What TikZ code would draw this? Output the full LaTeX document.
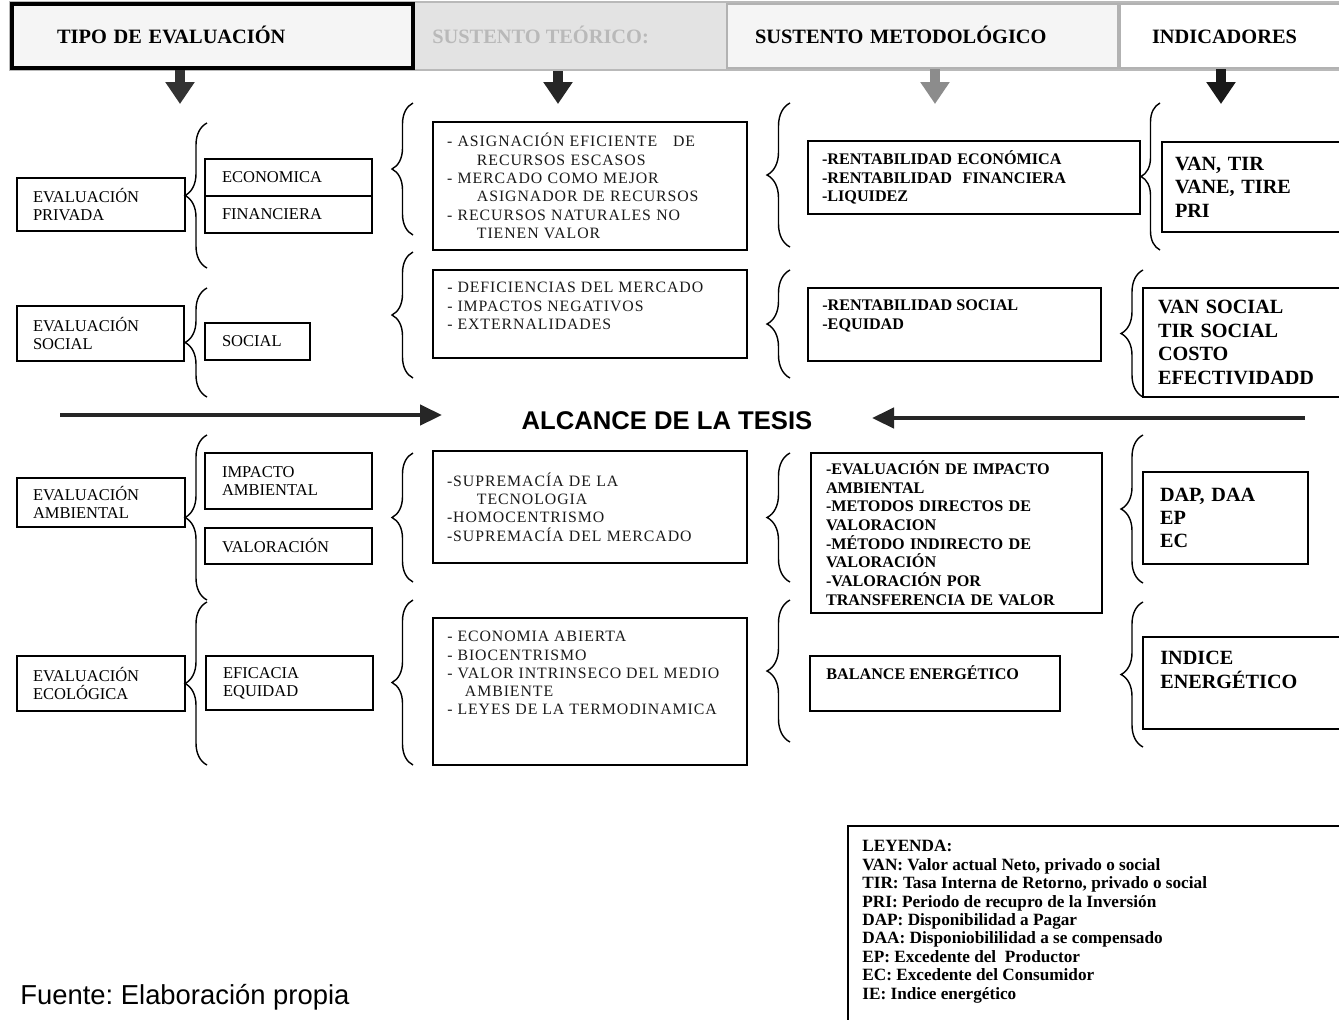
\documentclass[tikz,border=0pt]{standalone}
\usepackage{fontspec}
\setmainfont{Liberation Serif}
\newfontfamily\arialf{Liberation Sans}
\newfontfamily\teofont[LetterSpace=6]{Liberation Serif}
\usetikzlibrary{arrows.meta,decorations.pathreplacing}

\begin{document}
\frenchspacing
\begin{tikzpicture}[x=0.02cm, y=-0.02cm,
    evbox/.style={draw, line width=0.8pt, align=left, inner xsep=0.32cm, inner ysep=0pt, font=\fontsize{9.4}{10.2}\selectfont},
    subbox/.style={evbox, inner xsep=0.34cm},
    teofnt/.style={font=\teofont\fontsize{9}{10.4}\selectfont, text=black!90},
    teobox/.style={draw, line width=0.8pt, align=left, inner xsep=0.28cm, inner ysep=0pt, teofnt},
    teotxt/.style={align=left, inner sep=0pt, teofnt},
    metbox/.style={draw, line width=0.8pt, align=left, inner ysep=0pt, font=\bfseries\fontsize{9.2}{10.6}\selectfont},
    mettxt/.style={align=left, inner sep=0pt, font=\bfseries\fontsize{9.2}{10.6}\selectfont},
    indbox/.style={draw, line width=0.8pt, align=left, inner ysep=0pt, font=\bfseries\fontsize{11.5}{13.3}\selectfont},
    indtxt/.style={align=left, inner sep=0pt, font=\bfseries\fontsize{11.5}{13.3}\selectfont},
    boxframe/.style={draw, line width=0.8pt, inner sep=0pt},
    hdrbox/.style={align=left, inner ysep=0pt, minimum height=1.28cm, text height=10pt, text depth=1.2pt, font=\bfseries\fontsize{11.6}{13}\selectfont},
    brc/.style={decorate, decoration={brace, amplitude=#1}, line width=0.8pt},
    downarr/.style={line width=0.2cm, -{Triangle[width=0.56cm,length=0.44cm]}},
    midarr/.style={line width=0.09cm, black!85, -{Triangle[width=0.4cm,length=0.44cm]}}]

  \useasboundingbox[fill=white] (0,0) rectangle (1339,1019);

  % Header band
  \node[draw=gray!55, fill=gray!22, line width=1.5pt, minimum width=26.58cm, minimum height=1.36cm] (hdr) at (674.5,36) {};
  \node[hdrbox, draw, fill=gray!8, line width=2.2pt, inner xsep=0.9cm, text width=6.22cm] (tipo) at (212.5,36) {TIPO DE EVALUACIÓN};
  \node[hdrbox, text=gray!55, anchor=west, inner xsep=0pt] (teoh) at (432,36) {SUSTENTO TEÓRICO:};
  \node[hdrbox, draw=gray!60, fill=gray!8, line width=1.5pt, inner xsep=0.56cm, text width=6.7cm] (meth) at (922.5,36) {SUSTENTO METODOLÓGICO};
  \node[hdrbox, draw=gray!60, fill=white, line width=1.5pt, inner xsep=0.64cm, text width=3.22cm] (indh) at (1232.5,36) {INDICADORES};

  \coordinate (d1) at (180,104);
  \coordinate (d2) at (558,104);
  \coordinate (d3) at (935,104);
  \coordinate (d4) at (1221,104);
  \draw[downarr, black!80] (tipo.south -| d1) -- (d1);
  \draw[downarr, black!85] (hdr.south -| d2) -- (d2);
  \draw[downarr, black!45] (meth.south -| d3) -- (d3);
  \draw[downarr, black!90] (indh.south -| d4) -- (d4);

  % Types of evaluation
  \node[evbox, text width=2.72cm, minimum height=1.06cm] (priv) at (101,204.5) {EVALUACIÓN\\PRIVADA};
  \node[evbox, text width=2.70cm, minimum height=1.1cm] (soc) at (100.5,333.5) {EVALUACIÓN\\SOCIAL};
  \node[evbox, text width=2.72cm, minimum height=0.98cm] (amb) at (101,502.5) {EVALUACIÓN\\AMBIENTAL};
  \node[evbox, text width=2.72cm, minimum height=1.1cm] (eco) at (101,683.5) {EVALUACIÓN\\ECOLÓGICA};

  \node[subbox, text width=2.66cm, minimum height=0.74cm] (econ) at (288.5,177.5) {ECONOMICA};
  \node[subbox, text width=2.66cm, minimum height=0.74cm] (fin) at (288.5,214.5) {FINANCIERA};
  \node[subbox, text width=1.42cm, minimum height=0.74cm] (socb) at (257.5,341.5) {SOCIAL};
  \node[subbox, text width=2.66cm, minimum height=1.12cm] (imp) at (288.5,481) {IMPACTO\\AMBIENTAL};
  \node[subbox, text width=2.66cm, minimum height=0.72cm] (val) at (288.5,546) {VALORACIÓN};
  \node[subbox, text width=2.66cm, minimum height=1.08cm] (efi) at (289.5,683) {EFICACIA\\EQUIDAD};

  % Theoretical support
  \node[teobox, text width=5.72cm, minimum height=2.56cm] (teo1) at (590,186)
    {- ASIGNACIÓN EFICIENTE\ \ \ DE\\\hspace*{17pt}RECURSOS ESCASOS\\- MERCADO COMO MEJOR\\\hspace*{17pt}ASIGNADOR DE RECURSOS\\- RECURSOS NATURALES NO\\\hspace*{17pt}TIENEN VALOR};
  \node[boxframe, minimum width=6.28cm, minimum height=1.76cm] (teo2) at (590,314) {};
  \node[teotxt, anchor=north west] (teo2t) at (447,282) {- DEFICIENCIAS DEL MERCADO\\- IMPACTOS NEGATIVOS\\- EXTERNALIDADES};
  \node[teobox, text width=5.72cm, minimum height=2.24cm] (teo3) at (590,507)
    {-SUPREMACÍA DE LA\\\hspace*{17pt}TECNOLOGIA\\-HOMOCENTRISMO\\-SUPREMACÍA DEL MERCADO};
  \node[boxframe, minimum width=6.28cm, minimum height=2.94cm] (teo4) at (590,691.5) {};
  \node[teotxt, anchor=north west] (teo4t) at (447,631) {- ECONOMIA ABIERTA\\- BIOCENTRISMO\\- VALOR INTRINSECO DEL MEDIO\\\hspace*{10pt}AMBIENTE\\- LEYES DE LA TERMODINAMICA};

  % Methodological support
  \node[metbox, inner xsep=0.28cm, text width=6.08cm, minimum height=1.46cm] (met1) at (974,177.5)
    {-RENTABILIDAD ECONÓMICA\\-RENTABILIDAD\ \ FINANCIERA\\-LIQUIDEZ};
  \node[boxframe, minimum width=5.86cm, minimum height=1.46cm] (met2) at (954.5,324.5) {};
  \node[mettxt, anchor=north west] (met2t) at (822,299.5) {-RENTABILIDAD SOCIAL\\-EQUIDAD};
  \node[metbox, inner xsep=0.3cm, text width=5.22cm, minimum height=3.2cm] (met3) at (956.5,533)
    {-EVALUACIÓN DE IMPACTO\\AMBIENTAL\\-METODOS DIRECTOS DE\\VALORACION\\-MÉTODO INDIRECTO DE\\VALORACIÓN\\-VALORACIÓN POR\\TRANSFERENCIA DE VALOR};
  \node[boxframe, minimum width=5cm, minimum height=1.1cm] (met4) at (935,683.5) {};
  \node[mettxt, anchor=base west] (met4t) at (826,679.5) {BALANCE ENERGÉTICO};

  % Indicators
  \node[indbox, inner xsep=0.26cm, text width=3.24cm, minimum height=1.8cm] (ind1) at (1256,187) {VAN, TIR\\VANE, TIRE\\PRI};
  \node[indbox, inner xsep=0.3cm, text width=3.54cm, minimum height=2.18cm] (ind2) at (1246.5,342.5) {VAN SOCIAL\\TIR SOCIAL\\COSTO\\EFECTIVIDADD};
  \node[indbox, inner xsep=0.34cm, text width=2.62cm, minimum height=1.84cm] (ind3) at (1225.5,518) {DAP, DAA\\EP\\EC};
  \node[boxframe, minimum width=4.14cm, minimum height=1.84cm] (ind4) at (1246.5,683) {};
  \node[indtxt, anchor=north west] (ind4t) at (1160,651) {INDICE\\ENERGÉTICO};

  % Braces
  \foreach \yb/\yt in {268/123, 397/288, 600/435, 765/602}
    \draw[brc=0.44cm] (207,\yb) -- (207,\yt);
  \foreach \yb/\yt in {235/103, 378/252, 582/453, 765/600}
    \draw[brc=0.42cm] (413,\yb) -- (413,\yt);
  \foreach \yb/\yt in {247/103, 378/270, 582/453, 742/600}
    \draw[brc=0.46cm] (790,\yb) -- (790,\yt);
  \draw[brc=0.38cm] (1160,250) -- (1160,103);
  \foreach \yb/\yt in {397/270, 583/435, 747/602}
    \draw[brc=0.44cm] (1143,\yb) -- (1143,\yt);

  % Scope of the thesis
  \node[font=\arialf\bfseries\fontsize{14.6}{17}\selectfont] (alc) at (667,421) {ALCANCE DE LA TESIS};
  \coordinate (la) at (60,415);
  \coordinate (lb) at (442,415);
  \coordinate (ra) at (1305,418);
  \coordinate (rb) at (872,418);
  \draw[midarr] (la) -- (lb);
  \draw[midarr] (ra) -- (rb);

  % Legend
  \node[boxframe, minimum width=10.04cm, minimum height=4.08cm] (leg) at (1099,928) {};
  \node[align=left, inner sep=0pt, anchor=north west, font=\bfseries\fontsize{9.8}{10.5}\selectfont] (legt) at (862,840)
    {LEYENDA:\\VAN: Valor actual Neto, privado o social\\TIR: Tasa Interna de Retorno, privado o social\\PRI: Periodo de recupro de la Inversión\\DAP: Disponibilidad a Pagar\\DAA: Disponiobililidad a se compensado\\EP: Excedente del\ \ Productor\\EC: Excedente del Consumidor\\IE: Indice energético};

  \node[anchor=west, inner sep=0pt, font=\arialf\fontsize{15.6}{18}\selectfont] (src) at (20,997) {Fuente: Elaboración propia};
\end{tikzpicture}
\end{document}
